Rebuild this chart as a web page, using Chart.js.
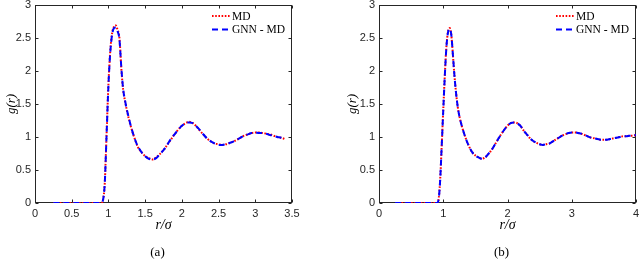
<!DOCTYPE html>
<html><head><meta charset="utf-8">
<script src="https://cdn.jsdelivr.net/npm/chart.js@4.4.0/dist/chart.umd.min.js"></script>
<style>
html,body{margin:0;padding:0;background:#fff;width:640px;height:262px;overflow:hidden}
#wrap{position:relative;width:640px;height:262px}
canvas{position:absolute;top:0}
</style></head><body>
<div id="wrap"><canvas id="ca" width="320" height="262" style="left:0"></canvas><canvas id="cb" width="320" height="262" style="left:320px"></canvas></div>
<script>
// ---- data ----
const rA = [0.25,0.30,0.35,0.40,0.45,0.50,0.55,0.60,0.65,0.70,0.75,0.80,0.85,0.90,0.925,0.95,0.975,1.00,1.025,1.05,1.075,1.10,1.125,1.15,1.175,1.20,1.225,1.25,1.30,1.35,1.40,1.45,1.50,1.55,1.60,1.65,1.70,1.75,1.80,1.85,1.90,1.95,2.00,2.05,2.10,2.15,2.20,2.25,2.30,2.35,2.40,2.45,2.50,2.55,2.60,2.65,2.70,2.75,2.80,2.85,2.90,2.95,3.00,3.05,3.10,3.15,3.20,3.25,3.30,3.35,3.40];
const mdA = [0,0,0,0,0,0,0,0,0,0,0,0,0,0.00,0.04,0.30,1.05,1.80,2.30,2.57,2.67,2.69,2.62,2.50,2.05,1.72,1.55,1.41,1.18,1.00,0.85,0.77,0.71,0.68,0.66,0.69,0.74,0.80,0.88,0.96,1.04,1.11,1.17,1.21,1.23,1.21,1.16,1.09,1.03,0.97,0.93,0.90,0.89,0.88,0.89,0.91,0.93,0.96,0.99,1.02,1.04,1.06,1.07,1.07,1.06,1.05,1.04,1.02,1.00,0.99,0.97];
const gnnA = [0,0,0,0,0,0,0,0,0,0,0,0,0,0.00,0.04,0.30,1.04,1.78,2.28,2.55,2.65,2.66,2.60,2.48,2.06,1.73,1.56,1.42,1.19,1.00,0.86,0.77,0.71,0.67,0.66,0.68,0.74,0.80,0.88,0.97,1.04,1.11,1.17,1.21,1.22,1.21,1.16,1.10,1.03,0.97,0.93,0.90,0.88,0.88,0.89,0.91,0.93,0.96,0.99,1.02,1.04,1.06,1.07,1.06,1.06,1.05,1.03,1.02,1.00,0.99,0.97];

const rB = [0.25,0.30,0.35,0.40,0.45,0.50,0.55,0.60,0.65,0.70,0.75,0.80,0.85,0.90,0.925,0.95,0.975,1.00,1.025,1.05,1.075,1.10,1.125,1.15,1.175,1.20,1.225,1.25,1.30,1.35,1.40,1.45,1.50,1.55,1.60,1.65,1.70,1.75,1.80,1.85,1.90,1.95,2.00,2.05,2.10,2.15,2.20,2.25,2.30,2.35,2.40,2.45,2.50,2.55,2.60,2.65,2.70,2.75,2.80,2.85,2.90,2.95,3.00,3.05,3.10,3.15,3.20,3.25,3.30,3.35,3.40,3.45,3.50,3.55,3.60,3.65,3.70,3.75,3.80,3.85,3.90,3.95,4.00];
const mdB = [0,0,0,0,0,0,0,0,0,0,0,0,0,0.00,0.04,0.32,0.85,1.41,1.95,2.38,2.60,2.65,2.55,2.25,1.92,1.66,1.46,1.32,1.13,0.98,0.86,0.77,0.72,0.69,0.67,0.69,0.74,0.80,0.88,0.96,1.04,1.11,1.17,1.21,1.22,1.21,1.17,1.10,1.04,0.98,0.94,0.91,0.89,0.88,0.89,0.90,0.93,0.96,0.99,1.02,1.04,1.06,1.07,1.07,1.06,1.05,1.03,1.01,0.99,0.98,0.97,0.96,0.96,0.96,0.97,0.98,0.99,1.00,1.01,1.01,1.02,1.02,1.03];
const gnnB = [0,0,0,0,0,0,0,0,0,0,0,0,0,0.00,0.04,0.31,0.84,1.40,1.94,2.37,2.59,2.64,2.55,2.25,1.92,1.66,1.46,1.32,1.13,0.98,0.86,0.77,0.72,0.69,0.67,0.69,0.74,0.80,0.88,0.96,1.04,1.11,1.17,1.21,1.22,1.21,1.17,1.10,1.04,0.98,0.94,0.91,0.89,0.88,0.89,0.90,0.93,0.96,0.99,1.02,1.04,1.06,1.07,1.07,1.06,1.05,1.03,1.01,0.99,0.98,0.97,0.96,0.96,0.96,0.97,0.98,0.99,1.00,1.01,1.01,1.02,1.02,1.03];

const xTicksA = [0,0.5,1,1.5,2,2.5,3,3.5];
const xTicksB = [0,1,2,3,4];
const yTicks = [0,0.5,1,1.5,2,2.5,3];
const seriesLabels = ['MD','GNN - MD'];
const captions = ['(a)','(b)'];
const xTitle = 'r/σ';
const yTitle = 'g(r)';

// ---- styling ----
const AX = '#262626';
const serif = '"Liberation Serif", "DejaVu Serif", serif';
const sans = '"Liberation Sans", Arial, sans-serif';

const framePlugin = {
  id: 'frame',
  beforeDatasetsDraw(chart) {
    const {ctx, chartArea: {left, right, top, bottom}, scales: {x, y}} = chart;
    const L = Math.round(left) + 0.5, R = Math.round(right) - 0.5;
    const T = Math.round(top) + 0.5, B = Math.round(bottom) - 0.5;
    ctx.save();
    ctx.strokeStyle = AX; ctx.lineWidth = 1;
    ctx.strokeRect(L, T, R - L, B - T);
    const tl = 3;
    ctx.beginPath();
    x.ticks.forEach(t => {
      const px = Math.round(x.getPixelForValue(t.value)) + 0.5;
      ctx.moveTo(px, B); ctx.lineTo(px, B - tl);
      ctx.moveTo(px, T); ctx.lineTo(px, T + tl);
    });
    y.ticks.forEach(t => {
      const py = Math.round(y.getPixelForValue(t.value)) + 0.5;
      ctx.moveTo(L, py); ctx.lineTo(L + tl, py);
      ctx.moveTo(R, py); ctx.lineTo(R - tl, py);
    });
    ctx.stroke();
    ctx.restore();
  },
  afterDraw(chart, args, opts) {
    const {ctx, chartArea: {left, right, top}} = chart;
    ctx.save();
    // legend
    const order = [0, 1];
    order.forEach((i, k) => {
      const ds = chart.data.datasets[i];
      const yy = top + 11 + k * 13.5;
      ctx.beginPath();
      ctx.strokeStyle = ds.borderColor;
      ctx.lineWidth = ds.borderWidth;
      ctx.setLineDash(ds.borderDash);
      ctx.moveTo(right - 80, yy); ctx.lineTo(right - 62, yy);
      ctx.stroke();
      ctx.setLineDash([]);
      ctx.fillStyle = '#000';
      ctx.font = '11.5px ' + serif;
      ctx.textBaseline = 'middle';
      ctx.textAlign = 'left';
      ctx.fillText(ds.label, right - 60, yy + 0.5);
    });
    // caption
    ctx.font = '13px ' + serif;
    ctx.fillStyle = '#000';
    ctx.textAlign = 'center';
    ctx.textBaseline = 'middle';
    ctx.fillText(opts.caption, (left + right) / 2 - 6, 253);
    ctx.restore();
  }
};

function makeChart(id, r, md, gnn, xTicks, xMax, yWidth, padRight, caption, yTitlePad) {
  return new Chart(document.getElementById(id), {
    type: 'line',
    data: {
      datasets: [
        { label: seriesLabels[0], data: r.map((v, i) => ({x: v, y: md[i]})),
          borderColor: '#ff0000', borderWidth: 2, borderDash: [1.6, 1.6],
          pointRadius: 0, cubicInterpolationMode: 'monotone', fill: false, order: 2 },
        { label: seriesLabels[1], data: r.map((v, i) => ({x: v, y: gnn[i]})),
          borderColor: '#0000ff', borderWidth: 2, borderDash: [6, 4],
          pointRadius: 0, cubicInterpolationMode: 'monotone', fill: false, order: 1 }
      ]
    },
    options: {
      responsive: false, animation: false, devicePixelRatio: 1,
      layout: { padding: { left: 0, right: padRight, top: 5, bottom: 25 } },
      plugins: { legend: { display: false }, tooltip: { enabled: false }, frame: { caption } },
      scales: {
        x: {
          type: 'linear', min: 0, max: xMax,
          afterBuildTicks: s => { s.ticks = xTicks.map(v => ({value: v})); },
          afterFit: s => { s.height = 34; s.paddingLeft = 0; s.paddingRight = 0; },
          grid: { display: false, drawTicks: false },
          border: { display: false },
          ticks: { color: AX, font: { family: sans, size: 11 }, padding: 4, maxRotation: 0, autoSkip: false,
                   callback: v => String(v) },
          title: { display: true, text: xTitle, color: '#000',
                   font: { family: serif, size: 14, style: 'italic' }, padding: { top: 0, bottom: 3.5 } }
        },
        y: {
          type: 'linear', min: 0, max: 3,
          afterBuildTicks: s => { s.ticks = yTicks.map(v => ({value: v})); },
          afterFit: s => { s.width = yWidth; s.paddingTop = 0; s.paddingBottom = 0; },
          grid: { display: false, drawTicks: false },
          border: { display: false },
          ticks: { color: AX, font: { family: sans, size: 11 }, padding: 4, autoSkip: false,
                   callback: v => String(v) },
          title: { display: true, text: yTitle, color: '#000',
                   font: { family: serif, size: 13, style: 'italic' }, padding: { top: yTitlePad, bottom: 0 } }
        }
      }
    },
    plugins: [framePlugin]
  });
}

makeChart('ca', rA, mdA, gnnA, xTicksA, 3.5, 35, 28, captions[0], 4);
makeChart('cb', rB, mdB, gnnB, xTicksB, 4, 59, 4, captions[1], 25);
</script>
</body></html>
